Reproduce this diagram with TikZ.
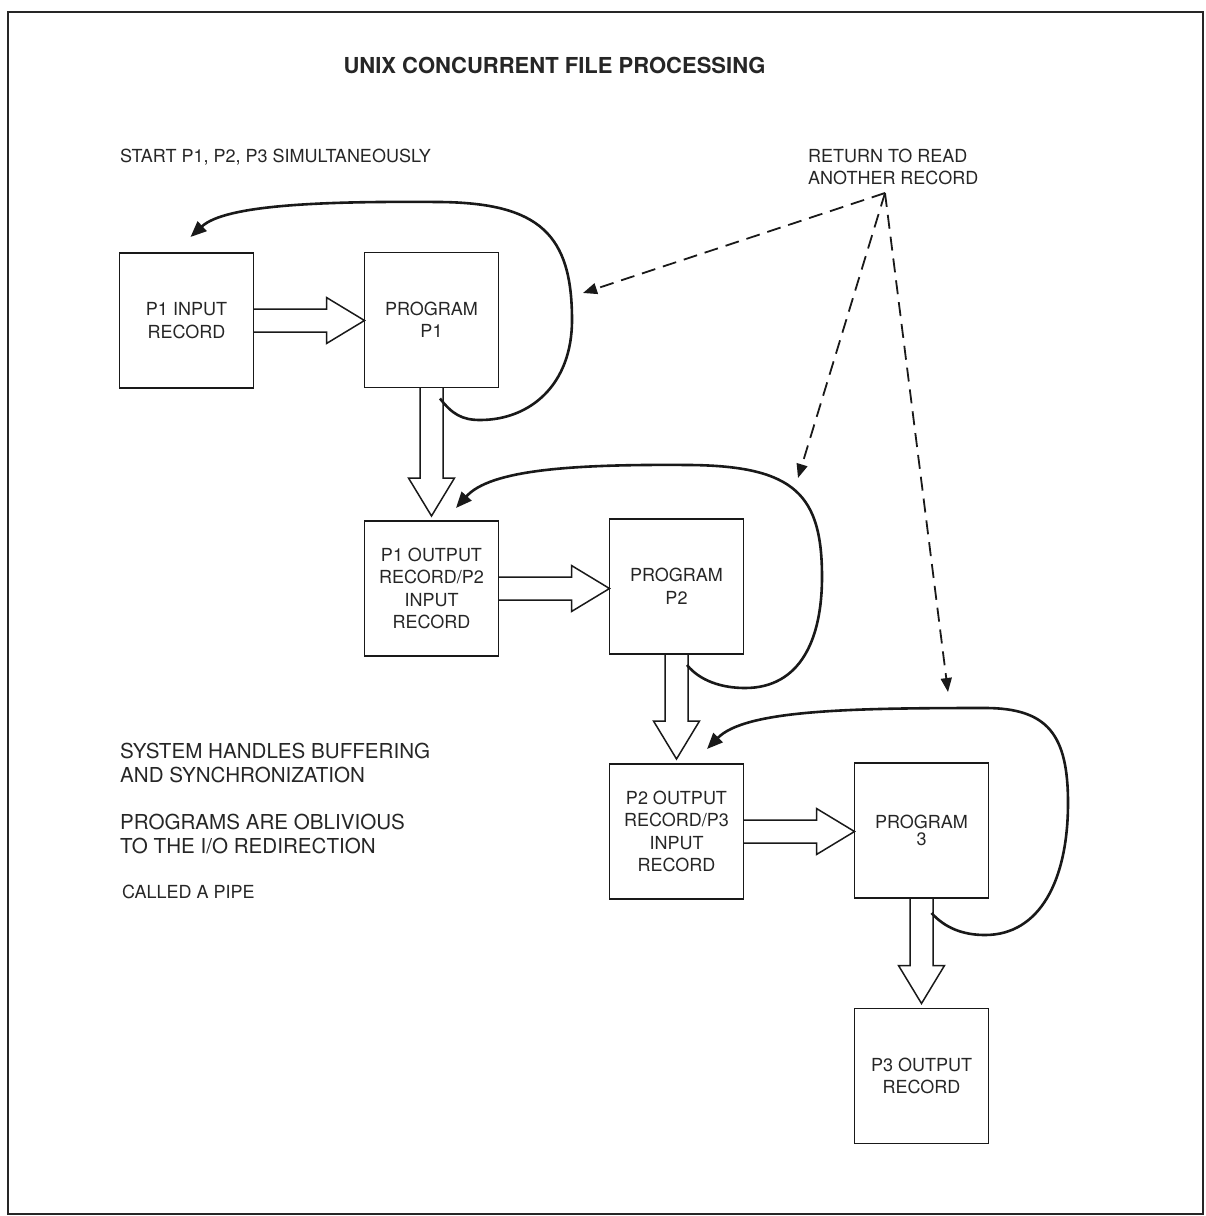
\documentclass[tikz,border=0pt]{standalone}
\usepackage{fontspec}
\setmainfont{TeX Gyre Heros}
\usetikzlibrary{calc,arrows.meta}

\newcommand{\boxfont}{\fontsize{18}{22.5}\selectfont}
\newcommand{\notefont}{\fontsize{18}{22}\selectfont}
\newcommand{\bigfont}{\fontsize{20.6}{24}\selectfont}
\newcommand{\headfont}{\fontsize{22}{26}\selectfont\bfseries}
\newcommand{\shw}{11.5}
\newcommand{\hdw}{23}
\newcommand{\hdl}{38}
\newcommand{\tipgap}{5}
\newcommand{\gridscl}{245}
\newcommand{\gx}[1]{#1*\gridscl+186.5}
\newcommand{\recn}{\node[draw, line width=1.5pt, black!90, text=black!85, minimum width=134pt, minimum height=135pt, inner sep=0pt, outer sep=0pt, align=center, font=\boxfont]}
\newcommand{\txtn}{\node[inner sep=0pt, anchor=west, align=left]}
\newcommand{\rpipe}[2]{\draw[pipe]
    ($(#1.east)+(0,-\shw)$) -- ($(#2.west |- #1.east)+(-\hdl,-\shw)$) -- ($(#2.west |- #1.east)+(-\hdl,-\hdw)$)
    -- (#2.west |- #1.east)
    -- ($(#2.west |- #1.east)+(-\hdl,\hdw)$) -- ($(#2.west |- #1.east)+(-\hdl,\shw)$) -- ($(#1.east)+(0,\shw)$);}
\newcommand{\dpipe}[2]{\draw[pipe]
    ($(#1.south)+(-\shw,0)$) -- ($(#1.south |- #2.north)+(-\shw,-\hdl-\tipgap)$) -- ($(#1.south |- #2.north)+(-\hdw,-\hdl-\tipgap)$)
    -- ($(#1.south |- #2.north)+(0,-\tipgap)$)
    -- ($(#1.south |- #2.north)+(\hdw,-\hdl-\tipgap)$) -- ($(#1.south |- #2.north)+(\shw,-\hdl-\tipgap)$) -- ($(#1.south)+(\shw,0)$);}

\tikzset{
    pipe/.style={line width=1.5pt, line join=miter, black!90},
    loopback/.style={line width=2.6pt, black!90, -{Triangle[length=16pt, width=13pt]}},
    rereadarrow/.style={line width=1.8pt, black!90, dash pattern=on 14pt off 8pt, -{Triangle[length=14pt, width=11pt]}}
}

\begin{document}
\begin{tikzpicture}[x=1pt, y=-1pt, text=black!85]
            \useasboundingbox (0,0) rectangle (1206,1216);
            \draw[line width=2.6pt, black!85] (8,12) rectangle (1203,1214);

            \node[inner sep=0pt, font=\headfont] (title) at (554.5, 65) {UNIX CONCURRENT FILE PROCESSING};
            \txtn[font=\notefont] (start) at (120, 157) {START P1, P2, P3 SIMULTANEOUSLY};
            \txtn[font=\notefont] (ret) at (808, 166.5) {RETURN TO READ\\ANOTHER RECORD};
            \txtn[font=\bigfont] (sys) at (120, 763) {SYSTEM HANDLES BUFFERING\\AND SYNCHRONIZATION};
            \txtn[font=\bigfont] (obl) at (120, 834) {PROGRAMS ARE OBLIVIOUS\\TO THE I/O REDIRECTION};
            \txtn[font=\notefont] (pipe) at (122, 892) {CALLED A PIPE};

            \recn (in1) at (\gx{0}, 320.5) {P1 INPUT\\RECORD};
            \recn (prog1) at (\gx{1}, 320) {PROGRAM\\P1};
            \recn (rec12) at (\gx{1}, 588.5) {P1 OUTPUT\\RECORD/P2\\INPUT\\RECORD};
            \recn (prog2) at (\gx{2}, 586.5) {PROGRAM\\P2};
            \recn (rec23) at (\gx{2}, 831.5) {P2 OUTPUT\\RECORD/P3\\INPUT\\RECORD};
            \recn (prog3) at (\gx{3}, 830.5) {PROGRAM\\[-5.5pt]3};
            \recn (out3) at (\gx{3}, 1076) {P3 OUTPUT\\RECORD};

            \rpipe{in1}{prog1}
            \rpipe{rec12}{prog2}
            \rpipe{rec23}{prog3}
            \dpipe{prog1}{rec12}
            \dpipe{prog2}{rec23}
            \dpipe{prog3}{out3}

            \draw[loopback]
                ($(prog1.south)+(8.5,11)$) .. controls (452,414) and (462,420) .. (480,420)
                .. controls (530,420) and (572,385) .. (572,320)
                .. controls (572,235) and (540,203) .. (440,202)
                .. controls (320,201) and (225,205) .. ($(in1.north)+(4,-16)$);
            \draw[loopback]
                ($(prog2.south)+(10.5,11)$) .. controls (700,681) and (722,688) .. (745,688)
                .. controls (800,688) and (822,640) .. (822,577)
                .. controls (822,495) and (795,466) .. (690,465)
                .. controls (570,464) and (490,470) .. ($(rec12.north)+(24.5,-13)$);
            \draw[loopback]
                ($(prog3.south)+(10,15)$) .. controls (945,928) and (963,935) .. (985,935)
                .. controls (1040,935) and (1068,880) .. (1068,803)
                .. controls (1068,735) and (1048,708) .. (985,708)
                .. controls (850,708) and (745,710) .. ($(rec23.north)+(30.5,-15)$);

            \coordinate (from) at (885,193);
            \coordinate (hit1) at (583,293);
            \coordinate (hit2) at (798,478);
            \coordinate (hit3) at (948,692);

            \draw[rereadarrow] (from) -- (hit1);
            \draw[rereadarrow] (from) -- (hit2);
            \draw[rereadarrow] (from) -- (hit3);
\end{tikzpicture}
\end{document}
